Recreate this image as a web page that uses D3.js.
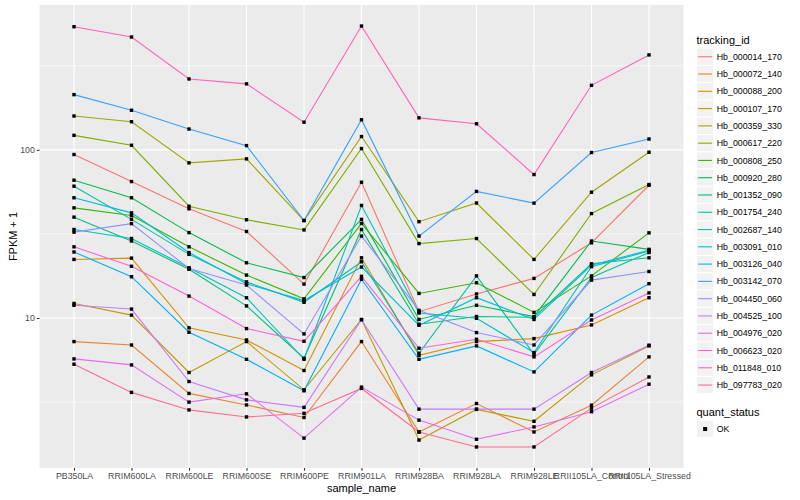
<!DOCTYPE html>
<html>
<head>
<meta charset="utf-8">
<script src="https://cdn.jsdelivr.net/npm/d3@7"></script>
<style>
  body { margin: 0; background: #fff; }
  text { font-family: "Liberation Sans", Arial, sans-serif; }
</style>
</head>
<body>
<svg></svg>
<script>
let width = 800, height = 500;

// samples on the x axis
const samples = ["PB350LA", "RRIM600LA", "RRIM600LE", "RRIM600SE", "RRIM600PE", "RRIM901LA",
                 "RRIM928BA", "RRIM928LA", "RRIM928LE", "RRII105LA_Control", "RRII105LA_Stressed"];

// FPKM + 1 per gene, one value per sample
const hb_000014_170 = [93.8, 64.8, 44.6, 32.7, 15.9, 64.2, 10.9, 13.9, 17.2, 28.0, 61.6];
const hb_000072_140 = [7.24, 6.91, 3.56, 3.04, 2.56, 7.24, 2.10, 3.10, 2.10, 3.03, 5.87];
const hb_000088_200 = [22.3, 22.7, 8.74, 7.40, 4.87, 22.8, 6.00, 7.24, 7.54, 9.09, 13.2];
const hb_000107_170 = [12.2, 10.4, 4.74, 7.24, 3.74, 9.80, 1.88, 2.86, 2.43, 4.59, 6.82];
const hb_000359_330 = [159, 147, 83.7, 88.4, 38.0, 120, 37.4, 48.3, 22.3, 56.0, 96.8];
const hb_000617_220 = [122, 106.5, 46.2, 38.4, 33.4, 101.8, 27.7, 29.7, 13.8, 41.8, 62.2];
const hb_000808_250 = [45.2, 40.7, 26.5, 18.0, 13.0, 36.5, 14.0, 16.2, 10.8, 17.8, 32.1];
const hb_000920_280 = [66.0, 51.9, 32.2, 21.3, 17.4, 38.6, 9.8, 11.9, 10.2, 28.7, 25.6];
const hb_001352_090 = [39.8, 28.7, 19.5, 11.8, 5.76, 33.6, 9.18, 10.2, 10.1, 21.0, 22.8];
const hb_001754_240 = [60.8, 38.6, 23.9, 16.4, 12.4, 21.6, 6.17, 17.8, 6.09, 17.4, 24.5];
const hb_002687_140 = [33.6, 29.7, 19.9, 13.2, 5.68, 46.7, 10.7, 9.96, 6.23, 20.2, 25.0];
const hb_003091_010 = [51.9, 42.2, 24.5, 16.0, 12.7, 20.1, 9.05, 13.2, 9.8, 20.6, 25.3];
const hb_003126_040 = [24.7, 17.6, 8.23, 5.68, 3.69, 17.0, 5.68, 6.82, 4.78, 10.4, 16.0];
const hb_003142_070 = [213, 172, 133, 106, 38.0, 151, 30.7, 56.6, 48.2, 96.4, 116];
const hb_004450_060 = [32.4, 36.4, 19.7, 15.7, 8.04, 30.7, 11.1, 8.19, 6.91, 16.8, 18.9];
const hb_004525_100 = [11.9, 11.3, 4.19, 3.26, 2.94, 9.76, 2.87, 2.87, 2.87, 4.74, 6.89];
const hb_004976_020 = [5.71, 5.26, 3.16, 3.54, 1.93, 3.88, 2.47, 1.90, 2.25, 2.77, 4.04];
const hb_006623_020 = [26.5, 20.3, 13.5, 8.65, 7.27, 17.7, 6.61, 7.47, 5.87, 9.73, 14.1];
const hb_011848_010 = [540, 469, 264, 247, 146, 545, 155, 143, 71.3, 242, 367];
const hb_097783_020 = [5.31, 3.61, 2.84, 2.58, 2.71, 3.81, 2.10, 1.71, 1.71, 2.91, 4.46];

const trackingIds = ["Hb_000014_170", "Hb_000072_140", "Hb_000088_200", "Hb_000107_170", "Hb_000359_330",
                     "Hb_000617_220", "Hb_000808_250", "Hb_000920_280", "Hb_001352_090", "Hb_001754_240",
                     "Hb_002687_140", "Hb_003091_010", "Hb_003126_040", "Hb_003142_070", "Hb_004450_060",
                     "Hb_004525_100", "Hb_004976_020", "Hb_006623_020", "Hb_011848_010", "Hb_097783_020"];

const seriesValues = [hb_000014_170, hb_000072_140, hb_000088_200, hb_000107_170, hb_000359_330,
                      hb_000617_220, hb_000808_250, hb_000920_280, hb_001352_090, hb_001754_240,
                      hb_002687_140, hb_003091_010, hb_003126_040, hb_003142_070, hb_004450_060,
                      hb_004525_100, hb_004976_020, hb_006623_020, hb_011848_010, hb_097783_020];

const yTicks = [10, 100];
const quantStatus = ["OK"];

// ggplot default hue palette, 20 levels
const hues = ["#F8766D", "#EA8331", "#D89000", "#C09B00", "#A3A500", "#7CAE00", "#39B600", "#00BB4E",
              "#00BF7D", "#00C1A3", "#00BFC4", "#00BAE0", "#00B0F6", "#35A2FF", "#9590FF", "#C77CFF",
              "#E76BF3", "#FA62DB", "#FF62BC", "#FF6C91"];

let series = trackingIds.map((id, i) => ({id: id, values: seriesValues[i]}));

let svg = d3.select("svg")
    .attr("width", width)
    .attr("height", height)
    .attr("viewBox", "0 0 " + width + " " + height);

let panel = {left: 39.5, right: 683.5, top: 5, bottom: 468};

let color = d3.scaleOrdinal().domain(trackingIds).range(hues);

let x = d3.scalePoint()
    .domain(samples)
    .range([panel.left, panel.right])
    .padding(0.6);

// log scale with 5% expansion in log space, like ggplot
let ext = d3.extent(d3.merge(seriesValues)).map(Math.log10);
let pad = (ext[1] - ext[0]) * 0.05;
let y = d3.scaleLog()
    .domain([Math.pow(10, ext[0] - pad), Math.pow(10, ext[1] + pad)])
    .range([panel.bottom, panel.top]);

// panel
svg.append("rect")
    .attr("x", panel.left)
    .attr("y", panel.top)
    .attr("width", panel.right - panel.left)
    .attr("height", panel.bottom - panel.top)
    .attr("fill", "#EBEBEB");

let grid = svg.append("g").attr("id", "grid");

grid.selectAll("line.minor")
    .data([Math.pow(10, 0.5), Math.pow(10, 1.5), Math.pow(10, 2.5)])
    .enter()
    .append("line")
    .attr("class", "minor")
    .attr("x1", panel.left).attr("x2", panel.right)
    .attr("y1", d => y(d)).attr("y2", d => y(d))
    .attr("stroke", "#fff")
    .attr("stroke-width", 0.55);

grid.selectAll("line.majory")
    .data(yTicks)
    .enter()
    .append("line")
    .attr("class", "majory")
    .attr("x1", panel.left).attr("x2", panel.right)
    .attr("y1", d => y(d)).attr("y2", d => y(d))
    .attr("stroke", "#fff")
    .attr("stroke-width", 1.1);

grid.selectAll("line.majorx")
    .data(samples)
    .enter()
    .append("line")
    .attr("class", "majorx")
    .attr("x1", d => x(d)).attr("x2", d => x(d))
    .attr("y1", panel.top).attr("y2", panel.bottom)
    .attr("stroke", "#fff")
    .attr("stroke-width", 1.1);

// lines
let line = d3.line()
    .x((d, i) => x(samples[i]))
    .y(d => y(d));

svg.append("g")
    .attr("id", "lines")
    .selectAll("path")
    .data(series)
    .enter()
    .append("path")
    .attr("d", d => line(d.values))
    .attr("fill", "none")
    .attr("stroke", d => color(d.id))
    .attr("stroke-width", 1.1);

// points
let pts = [];
series.forEach(s => s.values.forEach((v, i) => pts.push({sample: samples[i], value: v})));

let ps = 3.4;
svg.append("g")
    .attr("id", "points")
    .selectAll("rect")
    .data(pts)
    .enter()
    .append("rect")
    .attr("x", d => x(d.sample) - ps / 2)
    .attr("y", d => y(d.value) - ps / 2)
    .attr("width", ps)
    .attr("height", ps)
    .attr("fill", "#000");

// axes
let yAxis = svg.append("g")
    .attr("transform", "translate(" + panel.left + ",0)")
    .call(d3.axisLeft(y).tickValues(yTicks).tickFormat(d3.format("d")).tickSize(2.7).tickPadding(2));

let xAxis = svg.append("g")
    .attr("transform", "translate(0," + panel.bottom + ")")
    .call(d3.axisBottom(x).tickSize(2.7).tickPadding(2.5));

[xAxis, yAxis].forEach(a => {
    a.select(".domain").remove();
    a.selectAll(".tick line").attr("stroke", "#333").attr("stroke-width", 1.1);
    a.selectAll(".tick text")
        .attr("fill", "#4D4D4D")
        .style("font-size", "8.8px")
        .style("font-family", "'Liberation Sans', Arial, sans-serif");
});

svg.append("text")
    .attr("x", (panel.left + panel.right) / 2)
    .attr("y", 492)
    .attr("text-anchor", "middle")
    .style("font-size", "11px")
    .text("sample_name");

svg.append("text")
    .attr("transform", "translate(17," + ((panel.top + panel.bottom) / 2) + ") rotate(-90)")
    .attr("text-anchor", "middle")
    .style("font-size", "11px")
    .text("FPKM + 1");

// legend: tracking_id
let keySize = 17.28;
let legend = svg.append("g").attr("transform", "translate(696.5,0)");

legend.append("text")
    .attr("x", 0)
    .attr("y", 44)
    .style("font-size", "11px")
    .text("tracking_id");

let keys = legend.selectAll("g.key")
    .data(trackingIds)
    .enter()
    .append("g")
    .attr("class", "key")
    .attr("transform", (d, i) => "translate(0," + (48.1 + i * keySize) + ")");

keys.append("rect")
    .attr("width", keySize)
    .attr("height", keySize)
    .attr("fill", "#F2F2F2")
    .attr("stroke", "#fff")
    .attr("stroke-width", 1);

keys.append("line")
    .attr("x1", 1.7).attr("x2", keySize - 1.7)
    .attr("y1", keySize / 2).attr("y2", keySize / 2)
    .attr("stroke", d => color(d))
    .attr("stroke-width", 1.1);

keys.append("text")
    .attr("x", keySize + 3)
    .attr("y", keySize / 2 + 3.1)
    .attr("fill", "#000")
    .style("font-size", "8.8px")
    .text(d => d);

// legend: quant_status
legend.append("text")
    .attr("x", 0)
    .attr("y", 416)
    .style("font-size", "11px")
    .text("quant_status");

let qkeys = legend.selectAll("g.qkey")
    .data(quantStatus)
    .enter()
    .append("g")
    .attr("class", "qkey")
    .attr("transform", (d, i) => "translate(0," + (420.4 + i * keySize) + ")");

qkeys.append("rect")
    .attr("width", keySize)
    .attr("height", keySize)
    .attr("fill", "#F2F2F2")
    .attr("stroke", "#fff");

qkeys.append("rect")
    .attr("x", keySize / 2 - 2)
    .attr("y", keySize / 2 - 2)
    .attr("width", 4)
    .attr("height", 4)
    .attr("fill", "#000");

qkeys.append("text")
    .attr("x", keySize + 3)
    .attr("y", keySize / 2 + 3.1)
    .style("font-size", "8.8px")
    .text(d => d);
</script>
</body>
</html>
